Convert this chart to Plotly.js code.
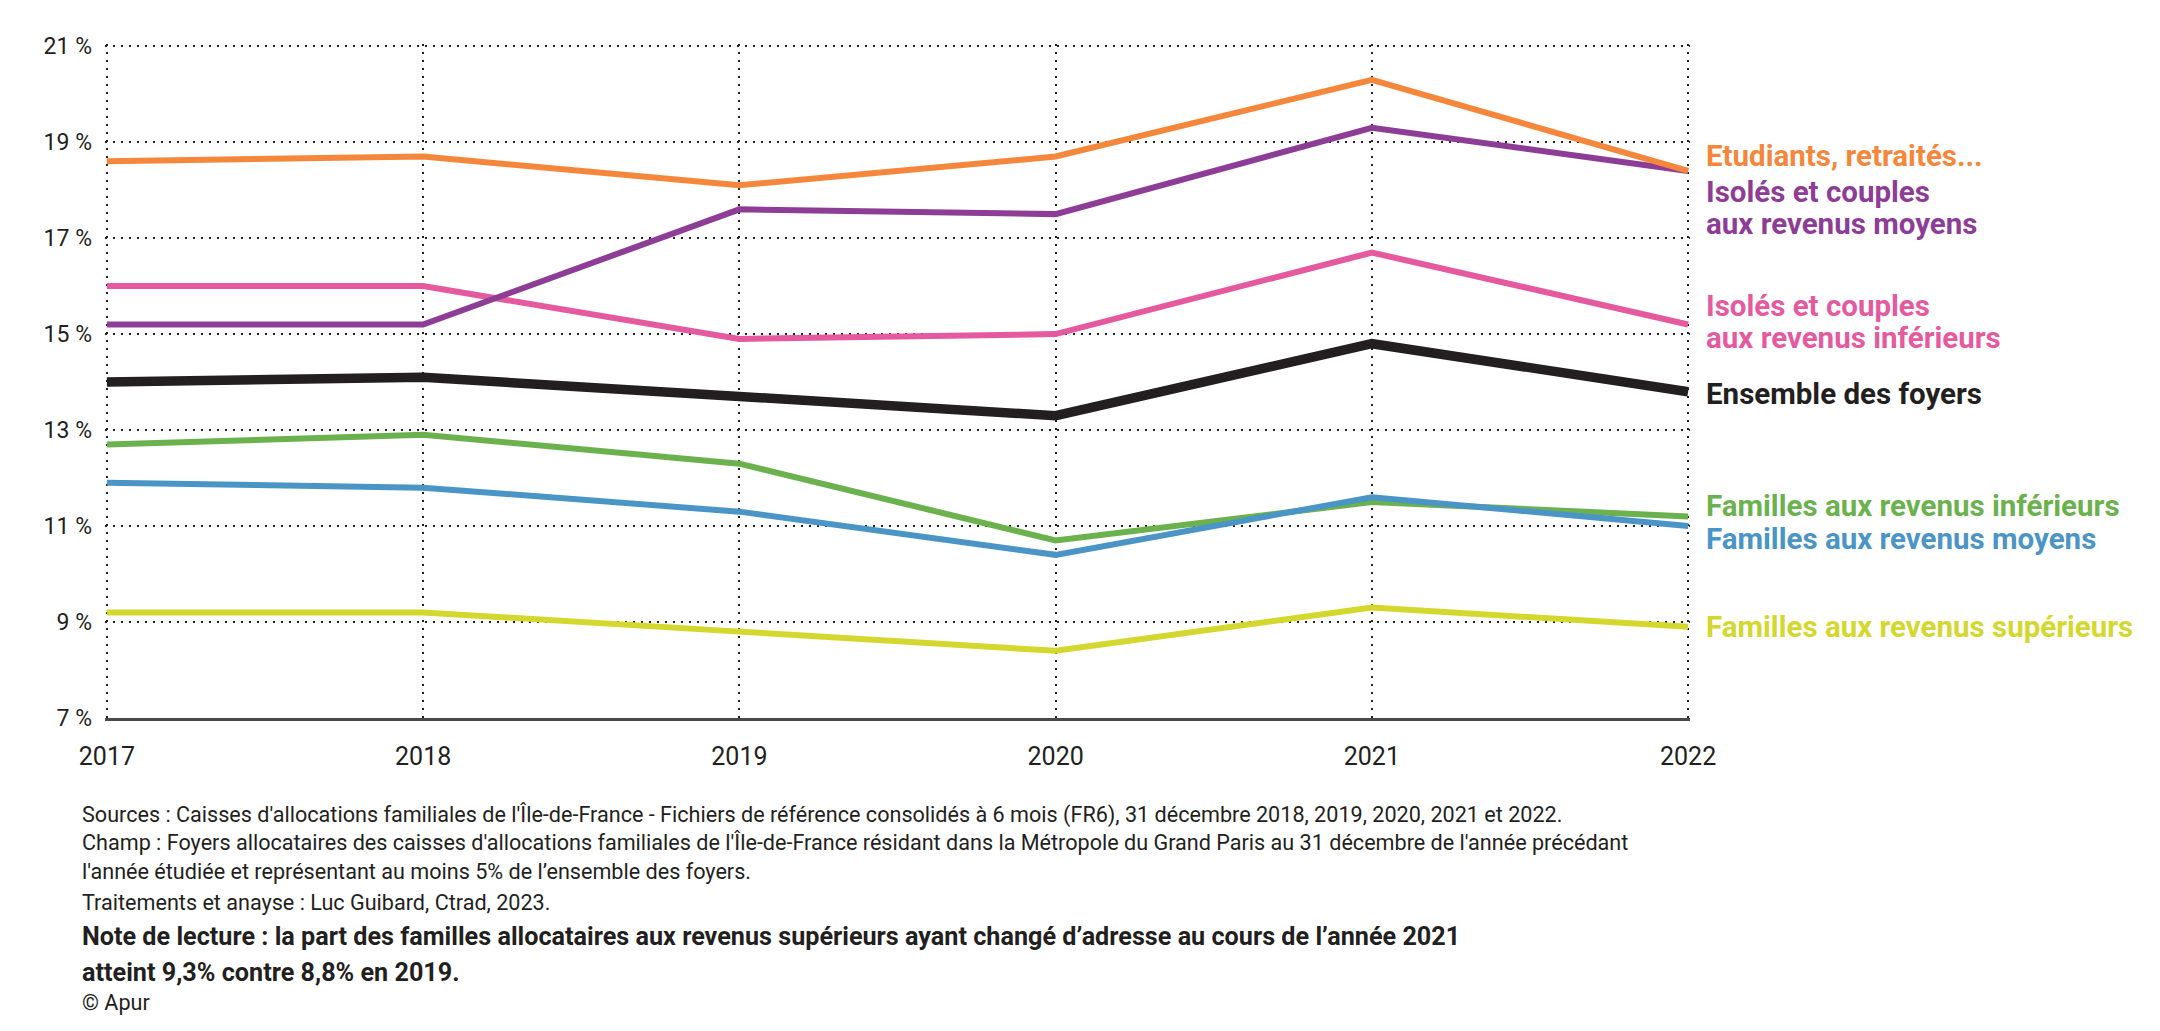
<!DOCTYPE html>
<html>
<head>
<meta charset="utf-8">
<script src="https://cdn.plot.ly/plotly-3.0.1.min.js"></script>
<style>
html,body{margin:0;padding:0;background:#fff;}
#chart{width:2160px;height:1031px;}
</style>
</head>
<body>
<div id="chart"></div>
<script>
const years = [2017, 2018, 2019, 2020, 2021, 2022];

const etudiants = [18.6, 18.7, 18.1, 18.7, 20.3, 18.4];
const isolesMoyens = [15.2, 15.2, 17.6, 17.5, 19.3, 18.4];
const isolesInferieurs = [16.0, 16.0, 14.9, 15.0, 16.7, 15.2];
const ensemble = [14.0, 14.1, 13.7, 13.3, 14.8, 13.8];
const famillesInferieurs = [12.7, 12.9, 12.3, 10.7, 11.5, 11.2];
const famillesMoyens = [11.9, 11.8, 11.3, 10.4, 11.6, 11.0];
const famillesSuperieurs = [9.2, 9.2, 8.8, 8.4, 9.3, 8.9];

const labelLines = [
  "Etudiants, retraités...",
  "Isolés et couples",
  "aux revenus moyens",
  "Isolés et couples",
  "aux revenus inférieurs",
  "Ensemble des foyers",
  "Familles aux revenus inférieurs",
  "Familles aux revenus moyens",
  "Familles aux revenus supérieurs"
];

const yTickVals = [7, 9, 11, 13, 15, 17, 19, 21];
const yTickText = ["7 %", "9 %", "11 %", "13 %", "15 %", "17 %", "19 %", "21 %"];
const xTickText = ["2017", "2018", "2019", "2020", "2021", "2022"];

const footerLines = [
  "Sources : Caisses d'allocations familiales de l'Île-de-France - Fichiers de référence consolidés à 6 mois (FR6), 31 décembre 2018, 2019, 2020, 2021 et 2022.",
  "Champ : Foyers allocataires des caisses d'allocations familiales de l'Île-de-France résidant dans la Métropole du Grand Paris au 31 décembre de l'année précédant",
  "l'année étudiée et représentant au moins 5% de l’ensemble des foyers.",
  "Traitements et anayse : Luc Guibard, Ctrad, 2023.",
  "<b>Note de lecture : la part des familles allocataires aux revenus supérieurs ayant changé d’adresse au cours de l’année 2021</b>",
  "<b>atteint 9,3% contre 8,8% en 2019.</b>",
  "© Apur"
];

// styles
const colors = {
  etudiants: "#F5873D",
  isolesMoyens: "#8E3D96",
  isolesInferieurs: "#E55A9F",
  ensemble: "#231F20",
  famillesInferieurs: "#6BB24F",
  famillesMoyens: "#4A95C5",
  famillesSuperieurs: "#D4D82E"
};

function tr(y, color, width) {
  return {x: years, y: y, type: "scatter", mode: "lines",
          line: {color: color, width: width}, hoverinfo: "skip", showlegend: false};
}

// draw order: bottom to top
const data = [
  tr(famillesSuperieurs, colors.famillesSuperieurs, 6),
  tr(famillesInferieurs, colors.famillesInferieurs, 6),
  tr(famillesMoyens, colors.famillesMoyens, 6),
  tr(isolesInferieurs, colors.isolesInferieurs, 6),
  tr(isolesMoyens, colors.isolesMoyens, 6),
  tr(etudiants, colors.etudiants, 6),
  tr(ensemble, colors.ensemble, 9.5)
];

const FONT = "Roboto, 'Noto Sans', sans-serif";

// small range padding so that the edge grid lines are drawn
const xPad = 0.006, yPad = 0.045;
const plotTopPx = 46, plotBottomPx = 718, plotLeftPx = 107, plotRightPx = 1688;
const pxPerYear = (plotRightPx - plotLeftPx) / 5;
const pxPerPct = (plotBottomPx - plotTopPx) / 14;
const mL = plotLeftPx - xPad * pxPerYear, mR = 2160 - (plotRightPx + xPad * pxPerYear);
const mT = plotTopPx - yPad * pxPerPct, mB = 1031 - plotBottomPx;
const ph = 1031 - mT - mB, pw = 2160 - mL - mR;
const pyPaper = (py) => (1031 - mB - py) / ph;
const pxPaper = (px) => (px - mL) / pw;

const labelColors = [colors.etudiants, colors.isolesMoyens, colors.isolesMoyens,
                     colors.isolesInferieurs, colors.isolesInferieurs, colors.ensemble,
                     colors.famillesInferieurs, colors.famillesMoyens, colors.famillesSuperieurs];
const labelPixY = [156, 191.5, 223.5, 306, 337.5, 394, 506, 539, 627];

const annotations = [];
labelLines.forEach((t, i) => {
  annotations.push({
    text: "<b>" + t + "</b>", xref: "paper", yref: "paper",
    x: pxPaper(1704), xanchor: "left",
    y: pyPaper(labelPixY[i]), yanchor: "middle",
    align: "left", showarrow: false,
    font: {family: FONT, size: 29.5, color: labelColors[i]}
  });
});

const footerPixY = [815, 843, 872, 903, 937, 973, 1003];
const footerSize = [21.6, 21.6, 21.6, 21.6, 25.2, 25.2, 21.6];
footerLines.forEach((t, i) => {
  annotations.push({
    text: t, xref: "paper", yref: "paper",
    x: pxPaper(80), xanchor: "left",
    y: pyPaper(footerPixY[i]), yanchor: "middle",
    align: "left", showarrow: false,
    font: {family: FONT, size: footerSize[i], color: "#231F20"}
  });
});

const layout = {
  width: 2160, height: 1031,
  margin: {l: mL, r: mR, t: mT, b: mB, pad: 0},
  paper_bgcolor: "#fff", plot_bgcolor: "#fff",
  font: {family: FONT, color: "#231F20"},
  xaxis: {
    range: [2017 - xPad, 2022 + xPad], tickvals: years, ticktext: xTickText,
    showgrid: true, gridcolor: "#231F20", gridwidth: 2, griddash: "2px,6px",
    zeroline: false, showline: true, linecolor: "#4a4a4a", linewidth: 3,
    ticks: "", ticklabelstandoff: 14,
    tickfont: {family: FONT, size: 25, color: "#231F20"}
  },
  yaxis: {
    range: [7, 21 + yPad], tickvals: yTickVals, ticktext: yTickText,
    showgrid: true, gridcolor: "#231F20", gridwidth: 2, griddash: "2px,6px",
    zeroline: false, showline: false, ticks: "", ticklabelstandoff: 12,
    tickfont: {family: FONT, size: 23, color: "#231F20"}
  },
  annotations: annotations,
  showlegend: false
};

Plotly.newPlot("chart", data, layout, {displayModeBar: false, staticPlot: true});
</script>
</body>
</html>
